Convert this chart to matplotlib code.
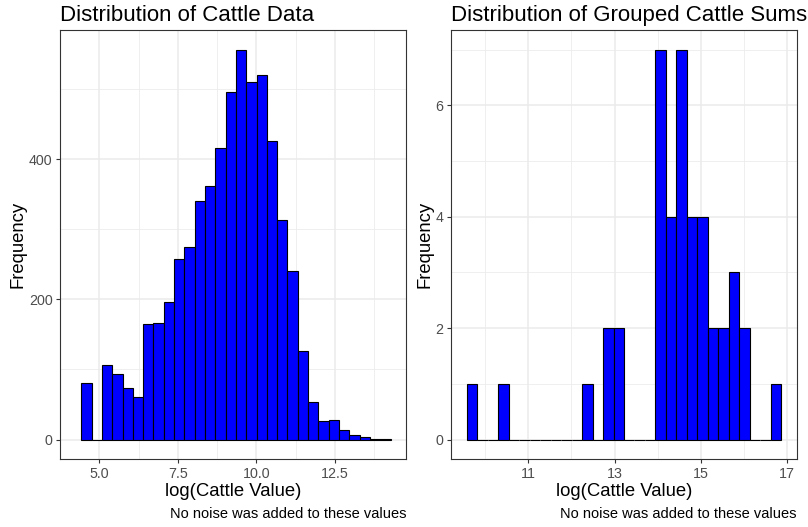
import numpy as np
import matplotlib
matplotlib.use("Agg")
import matplotlib.pyplot as plt

plt.rcParams['font.family'] = ['Liberation Sans', 'DejaVu Sans']

# Individual records: 30 bins over log(value)
cattle_range = (4.4271, 14.2708)
cattle_counts = [80, 0, 107, 94, 73, 61, 165, 166, 197, 258,
                 275, 340, 362, 416, 496, 557, 510, 521, 426, 314,
                 240, 126, 53, 27, 28, 13, 7, 3, 1, 1]

# Grouped sums: 30 bins over log(sum)
grouped_range = (9.573, 16.861)
grouped_counts = [1, 0, 0, 1, 0, 0, 0, 0, 0, 0,
                  0, 1, 0, 2, 2, 0, 0, 0, 7, 4,
                  7, 4, 4, 2, 2, 3, 2, 0, 0, 1]

left_xticks = [5.0, 7.5, 10.0, 12.5]
left_xticklabels = ["5.0", "7.5", "10.0", "12.5"]
left_yticks = [0, 200, 400]
right_xticks = [11, 13, 15, 17]
right_yticks = [0, 2, 4, 6]

titles = ["Distribution of Cattle Data", "Distribution of Grouped Cattle Sums"]
xlabel = "log(Cattle Value)"
ylabel = "Frequency"
caption = "No noise was added to these values"

W, H = 808, 527
fig = plt.figure(figsize=(W / 100, H / 100), dpi=100)

GRID = "#EBEBEB"
BORDER = "#333333"
TICKTXT = "#4D4D4D"


def panel(rect_px, counts, rng, xticks, xticklabels, yticks, title):
    x0, x1, ytop, ybot = rect_px
    ax = fig.add_axes([x0 / W, 1 - ybot / H, (x1 - x0) / W, (ybot - ytop) / H])
    n = len(counts)
    edges = np.linspace(rng[0], rng[1], n + 1)
    width = edges[1] - edges[0]
    ax.bar(edges[:-1], counts, width=width, align='edge', color='#0000FF',
           edgecolor='black', linewidth=0.8, zorder=3)
    span = rng[1] - rng[0]
    ax.set_xlim(rng[0] - 0.05 * span, rng[1] + 0.05 * span)
    ymax = max(counts)
    ax.set_ylim(-0.05 * ymax, ymax * 1.05)

    ax.set_xticks(xticks)
    ax.set_xticklabels(xticklabels if xticklabels else [str(t) for t in xticks])
    ax.set_yticks(yticks)
    # minor ticks halfway between majors, for grid only
    xstep = xticks[1] - xticks[0]
    ystep = yticks[1] - yticks[0]
    xmin = np.arange(xticks[0] - xstep / 2, ax.get_xlim()[1], xstep)
    ymin = np.arange(yticks[0] + ystep / 2, ax.get_ylim()[1], ystep)
    ax.set_xticks(xmin, minor=True)
    ax.set_yticks(ymin, minor=True)
    ax.grid(True, which='major', color=GRID, linewidth=1.1, zorder=0)
    ax.grid(True, which='minor', color=GRID, linewidth=0.55, zorder=0)
    ax.set_axisbelow(True)
    ax.tick_params(which='minor', length=0)
    ax.tick_params(which='major', length=3.2, width=0.8, color=BORDER,
                   labelcolor=TICKTXT, labelsize=10.3, pad=2.2)
    for s in ax.spines.values():
        s.set_color(BORDER)
        s.set_linewidth(0.8)

    ax.set_title(title, loc='left', fontsize=16, pad=6.5)
    ax.set_xlabel(xlabel, fontsize=13.3, labelpad=1.8)
    ax.set_ylabel(ylabel, fontsize=13.3, labelpad=1.5)
    fig.text(x1 / W, 1 - 518 / H, caption, ha='right', va='baseline', fontsize=10.5)
    return ax


panel((60, 406, 30, 459), cattle_counts, cattle_range,
      left_xticks, left_xticklabels, left_yticks, titles[0])
panel((451, 797, 30, 459), grouped_counts, grouped_range,
      right_xticks, None, right_yticks, titles[1])

fig.savefig("out.png", dpi=100)
